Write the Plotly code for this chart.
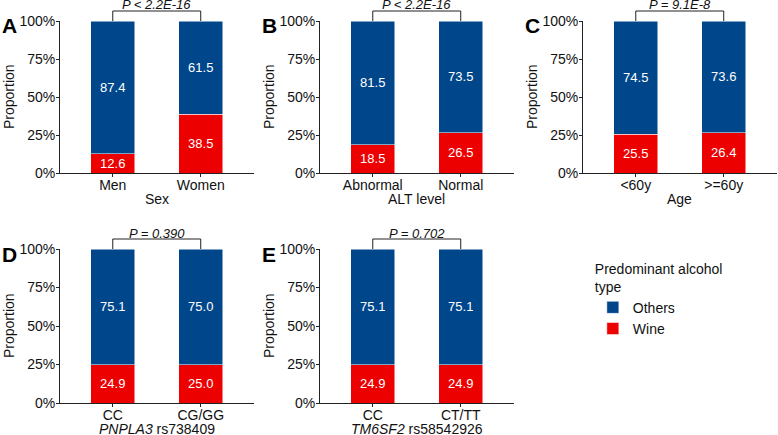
import plotly.graph_objects as go

# ---- data (percent) ----
panels = ['A', 'B', 'C', 'D', 'E']
categories = {
    'A': ['Men', 'Women'],
    'B': ['Abnormal', 'Normal'],
    'C': ['<60y', '>=60y'],
    'D': ['CC', 'CG/GG'],
    'E': ['CC', 'CT/TT'],
}
wine = {
    'A': [12.6, 38.5],
    'B': [18.5, 26.5],
    'C': [25.5, 26.4],
    'D': [24.9, 25.0],
    'E': [24.9, 24.9],
}
others = {
    'A': [87.4, 61.5],
    'B': [81.5, 73.5],
    'C': [74.5, 73.6],
    'D': [75.1, 75.0],
    'E': [75.1, 75.1],
}
x_titles = {
    'A': 'Sex',
    'B': 'ALT level',
    'C': 'Age',
    'D': '<i>PNPLA3</i> rs738409',
    'E': '<i>TM6SF2</i> rs58542926',
}
p_values = {
    'A': 'P < 2.2E-16',
    'B': 'P < 2.2E-16',
    'C': 'P = 9.1E-8',
    'D': 'P = 0.390',
    'E': 'P = 0.702',
}
y_ticks = [0, 25, 50, 75, 100]

BLUE = '#00468B'
RED = '#ED0000'
FONT = 'Liberation Sans, Arial, sans-serif'
W, H = 778, 435

# panel domains in pixels (left, right, top, bottom)
px_dom = {
    'A': (60, 253.5, 21, 173),
    'B': (320, 513.5, 21, 173),
    'C': (583, 776.5, 21, 173),
    'D': (60, 253.5, 249, 403),
    'E': (320, 513.5, 249, 403),
}

fig = go.Figure()
annotations = []
shapes = []

for i, p in enumerate(panels):
    n = '' if i == 0 else str(i + 1)
    xa, ya = 'x' + n, 'y' + n
    l, r, t, b = px_dom[p]
    cats = categories[p]
    for name, vals, col in [('Wine', wine[p], RED),
                            ('Others', others[p], BLUE)]:
        fig.add_trace(go.Bar(
            x=cats, y=vals, name=name, marker_color=col,
            marker_line=dict(color='white', width=0.5),
            width=0.5, text=[f'{v:.1f}' for v in vals],
            textposition='inside', insidetextanchor='middle',
            constraintext='none',
            textfont=dict(color='white', size=13, family=FONT),
            xaxis=xa, yaxis=ya, showlegend=(i == 0), legendgroup=name))

    axis_common = dict(showline=True, linecolor='#222222', linewidth=1,
                       ticks='outside', ticklen=3, tickcolor='#222222',
                       showgrid=False, zeroline=False, automargin=False,
                       tickfont=dict(size=14, color='#111111', family=FONT))
    fig.update_layout(**{
        ('xaxis' + n): dict(domain=[l / W, r / W], anchor=ya,
                            type='category', categoryorder='array',
                            categoryarray=cats, range=[-0.6, 1.6],
                            ticklabelstandoff=-4, **axis_common),
        ('yaxis' + n): dict(domain=[1 - b / H, 1 - t / H], anchor=xa,
                            range=[0, 100], tickvals=y_ticks,
                            ticktext=[f'{v}%' for v in y_ticks],
                            ticklabelstandoff=-2, **axis_common),
    })

    xd, yd = xa + ' domain', ya + ' domain'
    height = b - t
    # significance bracket between the two bar centres
    x0 = (0 + 0.6) / 2.2
    x1 = (1 + 0.6) / 2.2
    ytop = 1 + 10 / height
    for sx0, sy0, sx1, sy1 in [(x0, 1, x0, ytop), (x0, ytop, x1, ytop),
                               (x1, ytop, x1, 1)]:
        shapes.append(dict(type='line', xref=xd, yref=yd, x0=sx0, y0=sy0,
                           x1=sx1, y1=sy1,
                           line=dict(color='#222222', width=1)))
    annotations.append(dict(xref=xd, yref=yd, x=0.5, y=1, yshift=16,
                            text='<i>' + p_values[p] + '</i>',
                            showarrow=False, yanchor='middle',
                            font=dict(size=13, color='#111111', family=FONT)))
    # axis titles
    annotations.append(dict(xref=xd, yref=yd, x=0.5, y=0, yshift=-26,
                            text=x_titles[p], showarrow=False,
                            yanchor='middle',
                            font=dict(size=14, color='#111111', family=FONT)))
    annotations.append(dict(xref=xd, yref=yd, x=0, y=0.5, xshift=-51,
                            text='Proportion', textangle=-90,
                            showarrow=False, xanchor='center',
                            font=dict(size=14, color='#111111', family=FONT)))
    # panel letter
    annotations.append(dict(xref='paper', yref=yd, x=(l - 51) / W,
                            y=1, yshift=-5, yanchor='middle',
                            text='<b>' + p + '</b>',
                            showarrow=False, xanchor='center',
                            font=dict(size=21, color='#000000',
                                      family=FONT)))

fig.update_layout(
    width=W, height=H, barmode='stack',
    margin=dict(l=0, r=0, t=0, b=0),
    plot_bgcolor='white', paper_bgcolor='white',
    font=dict(family=FONT, size=14, color='#111111'),
    annotations=annotations, shapes=shapes,
    legend=dict(title=dict(text='Predominant alcohol<br>type',
                           font=dict(size=14)),
                traceorder='reversed', x=0.762, y=0.413,
                xanchor='left', yanchor='top',
                font=dict(size=14), itemwidth=30,
                bgcolor='rgba(0,0,0,0)'),
)

# drop the default body margin so the figure sits at the window origin
fig.write_html('out.html', config={'displayModeBar': False},
               post_script="document.body.style.margin='0';")
